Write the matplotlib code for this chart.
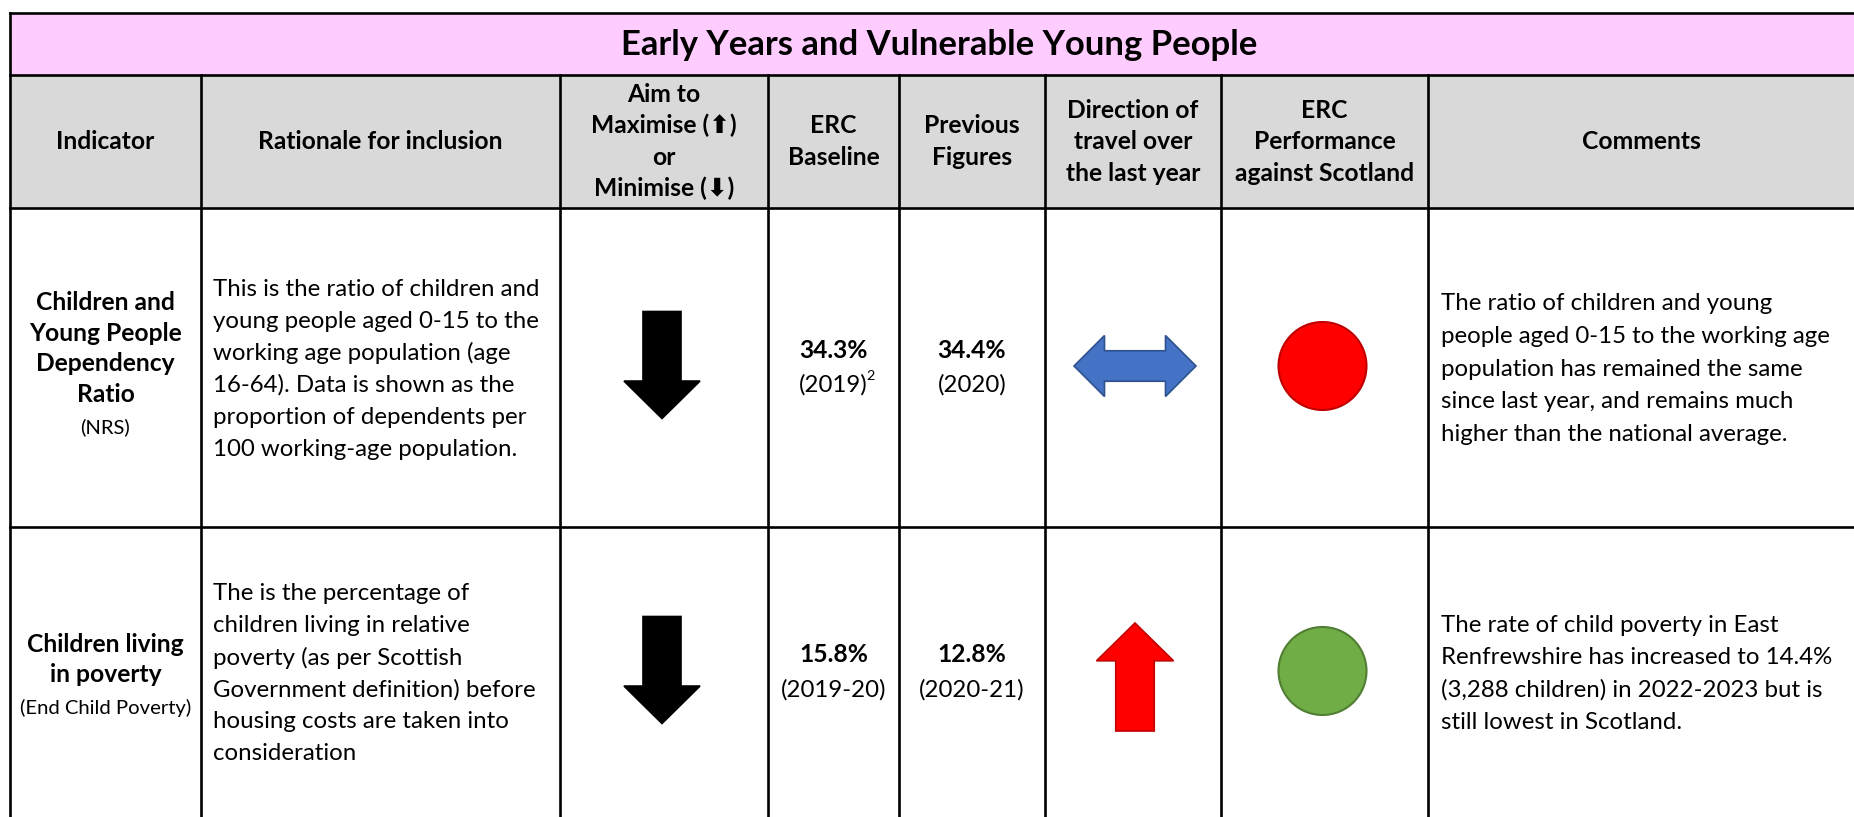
import matplotlib
matplotlib.use("Agg")
import matplotlib.pyplot as plt
from matplotlib.patches import Rectangle, Polygon, Ellipse

# ---------------- data ----------------
title = "Early Years and Vulnerable Young People"
headers = [
    ["Indicator"],
    ["Rationale for inclusion"],
    ["Aim to", "Maximise (\u2B06)", "or", "Minimise (\u2B07)"],
    ["ERC", "Baseline"],
    ["Previous", "Figures"],
    ["Direction of", "travel over", "the last year"],
    ["ERC", "Performance", "against Scotland"],
    ["Comments"],
]
indicator_names = [
    ["Children and", "Young People", "Dependency", "Ratio"],
    ["Children living", "in poverty"],
]
indicator_sources = ["(NRS)", "(End Child Poverty)"]
rationale = [
    ["This is the ratio of children and",
     "young people aged 0-15 to the",
     "working age population (age",
     "16-64). Data is shown as the",
     "proportion of dependents per",
     "100 working-age population."],
    ["The is the percentage of",
     "children living in relative",
     "poverty (as per Scottish",
     "Government definition) before",
     "housing costs are taken into",
     "consideration"],
]
aim = ["down", "down"]
baseline_values = ["34.3%", "15.8%"]
baseline_periods = ["(2019)", "(2019-20)"]
baseline_notes = ["2", ""]
previous_values = ["34.4%", "12.8%"]
previous_periods = ["(2020)", "(2020-21)"]
direction = ["both", "up"]
performance = ["red", "green"]
comments = [
    ["The ratio of children and young",
     "people aged 0-15 to the working age",
     "population has remained the same",
     "since last year, and remains much",
     "higher than the national average."],
    ["The rate of child poverty in East",
     "Renfrewshire has increased to 14.4%",
     "(3,288 children) in 2022-2023 but is",
     "still lowest in Scotland."],
]

# ---------------- style / layout ----------------
FONT = ["Lato", "DejaVu Sans"]
PINK = "#FFCCFF"
GREY = "#D9D9D9"
CIRCLE = {"red": ("#FF0000", "#C00000"), "green": ("#70AD47", "#507E32")}
UPRED = ("#FF0000", "#C00000")
BLUE = ("#4472C4", "#2F528F")

W, H = 1854, 817
XC = [10, 201, 560, 768, 899, 1045, 1221, 1428, 1854]
YR = [13, 75, 208, 527, 817]
ROW_C = [367, 672]
LW = 1.9

fig = plt.figure(figsize=(W / 100, H / 100), dpi=100)
ax = fig.add_axes([0, 0, 1, 1])
ax.set_xlim(0, W)
ax.set_ylim(H, 0)
ax.axis("off")
renderer = fig.canvas.get_renderer()


def text_width(text, fs, weight="normal"):
    t = ax.text(0, 0, text, fontsize=fs, fontweight=weight, family=FONT)
    w = t.get_window_extent(renderer).width
    t.remove()
    return w


def fit(text, target_px, weight):
    return 20 * target_px / text_width(text, 20, weight)


FS_TITLE = fit(title, 636, "bold")
FS_BOLD = fit("Rationale for inclusion", 244, "bold")
FS_BODY = fit("This is the ratio of children and", 326, "normal")
FS_SMALL = fit("(End Child Poverty)", 172, "normal")


def txt(x, y, s, fs, weight="normal", ha="center"):
    ax.text(x, y, s, fontsize=fs, fontweight=weight, family=FONT,
            ha=ha, va="center", color="black")


def lines_block(x, yc, lines, fs, weight, spacing, ha="center"):
    n = len(lines)
    for i, s in enumerate(lines):
        txt(x, yc + (i - (n - 1) / 2) * spacing, s, fs, weight, ha)


# backgrounds
ax.add_patch(Rectangle((XC[0], YR[0]), W - XC[0], YR[1] - YR[0], color=PINK, lw=0))
ax.add_patch(Rectangle((XC[0], YR[1]), W - XC[0], YR[2] - YR[1], color=GREY, lw=0))

# grid lines
for y in YR[:4]:
    ax.plot([XC[0], W], [y, y], color="black", lw=LW, solid_capstyle="projecting")
ax.plot([XC[0], XC[0]], [YR[0], H], color="black", lw=LW, solid_capstyle="projecting")
for x in XC[1:-1]:
    ax.plot([x, x], [YR[1], H], color="black", lw=LW, solid_capstyle="projecting")

# title
txt((XC[0] + W) / 2 + 7, (YR[0] + YR[1]) / 2 + 1, title, FS_TITLE, "bold")

# headers
hc = (YR[1] + YR[2]) / 2
for i, h in enumerate(headers):
    cx = (XC[i] + XC[i + 1]) / 2
    if i == 7:
        cx = 1388 * 1854 / 1568
    lines_block(cx, hc, h, FS_BOLD, "bold", 31.5)


def block_arrow(cx, cy, w, h, kind, fc, ec):
    sw = w * 0.5
    hl = h * 0.35
    if kind == "down":
        top, bot = cy - h / 2, cy + h / 2
        hb = bot - hl
        pts = [(cx - sw / 2, top), (cx + sw / 2, top), (cx + sw / 2, hb),
               (cx + w / 2, hb), (cx, bot), (cx - w / 2, hb), (cx - sw / 2, hb)]
    elif kind == "up":
        top, bot = cy - h / 2, cy + h / 2
        hb = top + hl
        pts = [(cx - sw / 2, bot), (cx + sw / 2, bot), (cx + sw / 2, hb),
               (cx + w / 2, hb), (cx, top), (cx - w / 2, hb), (cx - sw / 2, hb)]
    else:  # both (horizontal double arrow)
        L = w * 0.25
        sh = h * 0.5
        l, r = cx - w / 2, cx + w / 2
        pts = [(l, cy), (l + L, cy - h / 2), (l + L, cy - sh / 2),
               (r - L, cy - sh / 2), (r - L, cy - h / 2), (r, cy),
               (r - L, cy + h / 2), (r - L, cy + sh / 2), (l + L, cy + sh / 2),
               (l + L, cy + h / 2)]
    ax.add_patch(Polygon(pts, closed=True, facecolor=fc, edgecolor=ec, lw=1.2,
                         joinstyle="miter"))


for r in range(2):
    yc = ROW_C[r]
    # indicator
    cx = (XC[0] + XC[1]) / 2
    names = indicator_names[r]
    n = len(names)
    sp = 30.7
    total = (n - 1) * sp + 33
    y0 = yc - total / 2 + (4 if r == 1 else -2)
    for i, s in enumerate(names):
        txt(cx, y0 + i * sp, s, FS_BOLD, "bold")
    txt(cx, y0 + (n - 1) * sp + 33, indicator_sources[r], FS_SMALL)

    # rationale
    lines_block(213, yc + 2, rationale[r], FS_BODY, "normal", 32, ha="left")

    # aim arrow
    block_arrow((XC[2] + XC[3]) / 2 - 2, yc - 2, 76, 107, aim[r], "black", "black")

    # baseline
    cx = (XC[3] + XC[4]) / 2
    txt(cx, yc - 17, baseline_values[r], FS_BOLD, "bold")
    txt(cx, yc + 18, baseline_periods[r], FS_BODY)
    if baseline_notes[r]:
        wpx = text_width(baseline_periods[r], FS_BODY)
        ax.text(cx + wpx / 2 - 2, yc + 9, baseline_notes[r], fontsize=FS_BODY * 0.6,
                family=FONT, ha="left", va="center")

    # previous
    cx = (XC[4] + XC[5]) / 2
    txt(cx, yc - 17, previous_values[r], FS_BOLD, "bold")
    txt(cx, yc + 18, previous_periods[r], FS_BODY)

    # direction
    cx = (XC[5] + XC[6]) / 2 + 2
    if direction[r] == "both":
        block_arrow(cx, yc - 1, 122, 61, "both", *BLUE)
    else:
        block_arrow(cx, yc + 5, 77, 108, direction[r], *UPRED)

    # performance
    fc, ec = CIRCLE[performance[r]]
    ax.add_patch(Ellipse(((XC[6] + XC[7]) / 2 - 2, yc - 1), 88, 88,
                         facecolor=fc, edgecolor=ec, lw=1.5))

    # comments
    lines_block(1441, yc + 2, comments[r], FS_BODY, "normal", 32.5, ha="left")

fig.savefig("out.png", dpi=100)
